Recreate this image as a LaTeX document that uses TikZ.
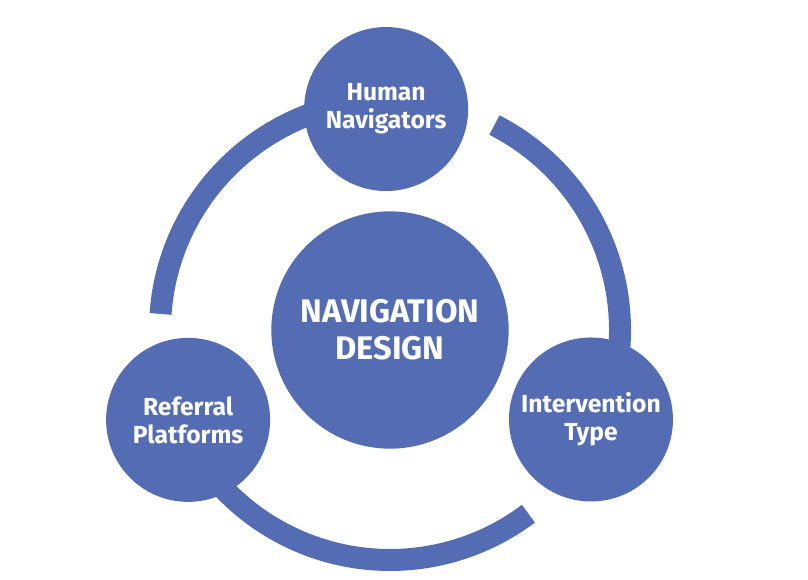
\documentclass[tikz,border=0pt]{standalone}
\usepackage{fontspec}
\setmainfont{Fira Sans}
\usetikzlibrary{positioning}
\definecolor{navblue}{RGB}{84,108,180}

\begin{document}
\begin{tikzpicture}[x=0.75pt,y=0.75pt,
  every node/.style={circle,fill=navblue,text=white,font=\bfseries,align=center,inner sep=0pt},
  hub/.style={minimum size=178pt,font=\fontsize{24.5}{27.75}\selectfont\bfseries},
  spoke/.style={minimum size=123pt,font=\fontsize{18.5}{21}\selectfont\bfseries},
  ring/.style={draw=navblue,line width=16.5pt}]
  \useasboundingbox (-390,-250) rectangle (418,330);

  % ring pieces, each one starting under a circle
  \foreach \a/\b in {-24/63, 90/176, 204/307}{
    \draw[ring] (\a:230) arc[start angle=\a, end angle=\b, radius=230];
  }

  \node[hub] (design) at (0,0) {NAVIGATION\\DESIGN};
  \node[spoke] (navigators) at (91:221) {Human\\Navigators};
  \node[spoke] (referral) at (204:221) {Referral\\Platforms};
  \node[spoke] (intervention) at (336:220) {Intervention\\Type};
\end{tikzpicture}
\end{document}
